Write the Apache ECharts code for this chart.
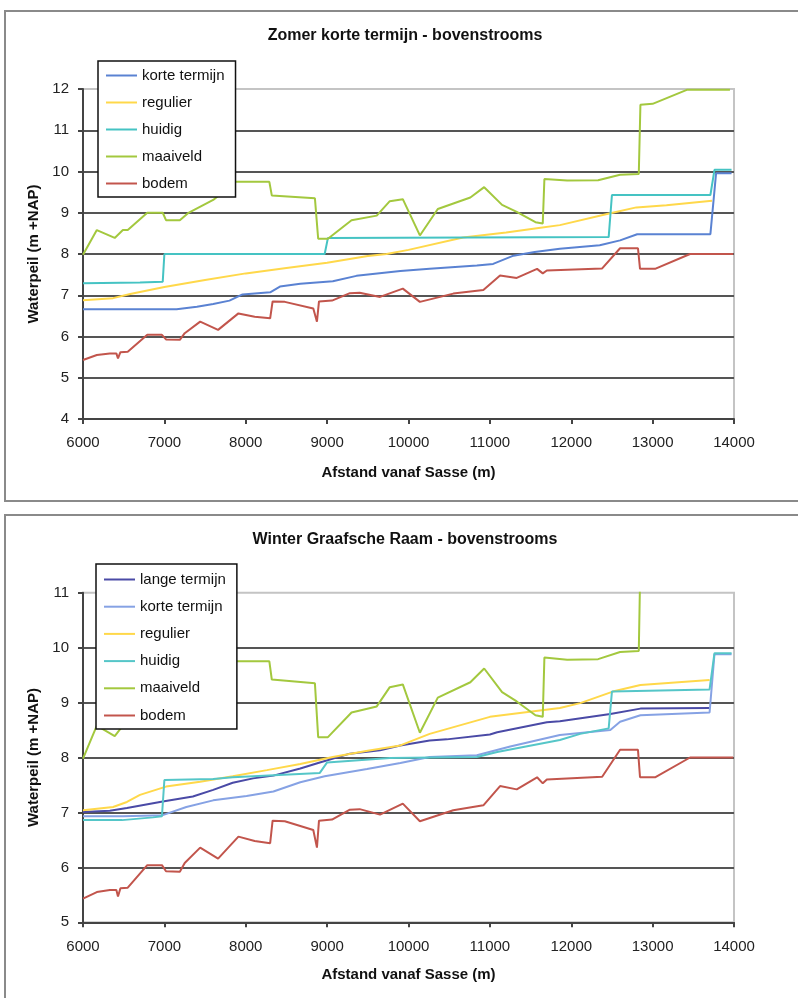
<!DOCTYPE html>
<html><head><meta charset="utf-8">
<script src="https://cdn.jsdelivr.net/npm/echarts@6/dist/echarts.min.js"></script>
<style>
html,body{margin:0;padding:0;background:#fff;}
#c1{position:absolute;left:0;top:0;width:798px;height:505px;}
#c2{position:absolute;left:0;top:505px;width:798px;height:493px;}
</style>
</head><body>
<div id="c1"></div><div id="c2"></div>
<script>
// ---------- shared data ----------
const xTicks = [6000, 7000, 8000, 9000, 10000, 11000, 12000, 13000, 14000];

const maaiveldX = [6000,6170,6390,6490,6550,6790,6980,7020,7190,7290,7600,7700,7840,8290,8320,8850,8890,9010,9300,9610,9770,9930,10140,10360,10760,10930,11150,11330,11560,11650,11670,11950,12330,12600,12830,12850,13000,13420,13950];
const maaiveldY = [7.98,8.58,8.39,8.58,8.58,9.0,9.0,8.82,8.82,8.99,9.31,9.47,9.75,9.75,9.42,9.35,8.37,8.37,8.82,8.93,9.28,9.33,8.45,9.09,9.37,9.62,9.19,9.02,8.77,8.74,9.82,9.78,9.79,9.92,9.94,11.62,11.64,11.98,11.98];

const bodemX = [6000,6170,6330,6410,6430,6460,6550,6790,6970,7020,7190,7250,7440,7660,7910,8110,8300,8330,8480,8830,8875,8900,9060,9280,9400,9650,9930,10140,10550,10920,11125,11330,11580,11650,11700,12380,12600,12820,12845,13030,13460,13990];
const bodemY = [5.43,5.55,5.59,5.59,5.47,5.62,5.63,6.04,6.04,5.93,5.92,6.08,6.36,6.16,6.56,6.48,6.44,6.85,6.84,6.68,6.36,6.85,6.87,7.05,7.06,6.96,7.16,6.84,7.04,7.13,7.48,7.42,7.64,7.53,7.60,7.65,8.14,8.14,7.64,7.64,8.0,8.0];

// ---------- top chart: Zomer korte termijn ----------
const zTitle = 'Zomer korte termijn - bovenstrooms';
const zYTicks = [4, 5, 6, 7, 8, 9, 10, 11, 12];
const zKorteX = [6000,7150,7400,7600,7800,7960,8300,8420,8670,9070,9360,9900,10260,10840,11040,11290,11550,11860,12350,12600,12810,13710,13780,13970];
const zKorteY = [6.66,6.66,6.72,6.79,6.87,7.02,7.07,7.21,7.28,7.34,7.47,7.59,7.64,7.72,7.76,7.96,8.05,8.13,8.21,8.33,8.48,8.48,9.96,9.96];
const zRegX = [6000,6370,6580,7000,7500,8000,8500,9000,9500,9730,10000,10670,11200,11600,11860,12480,12800,13170,13730];
const zRegY = [6.88,6.93,7.03,7.20,7.37,7.53,7.66,7.79,7.95,8.0,8.10,8.40,8.52,8.63,8.70,8.99,9.13,9.18,9.29];
const zHuidigX = [6000,6700,6980,7000,8970,9010,12460,12500,13710,13760,13970];
const zHuidigY = [7.29,7.31,7.33,8.0,8.0,8.39,8.41,9.43,9.43,10.04,10.04];

// ---------- bottom chart: Winter Graafsche Raam ----------
const wTitle = 'Winter Graafsche Raam - bovenstrooms';
const wYTicks = [5, 6, 7, 8, 9, 10, 11];
const wLangeX = [6000,6330,6540,6980,7350,7600,7840,8090,8340,8670,8910,9280,9650,9900,10260,10470,11000,11090,11700,11860,12480,12850,13700];
const wLangeY = [7.01,7.03,7.08,7.20,7.29,7.41,7.54,7.62,7.67,7.80,7.91,8.07,8.13,8.22,8.31,8.33,8.42,8.46,8.64,8.66,8.79,8.89,8.90];
const wKorteX = [6000,6490,6980,7270,7600,8010,8340,8670,8970,9490,9900,10260,10840,11250,11860,12480,12600,12850,13700,13760,13970];
const wKorteY = [6.93,6.93,6.95,7.10,7.22,7.30,7.38,7.55,7.66,7.79,7.90,8.01,8.04,8.20,8.41,8.50,8.65,8.77,8.82,9.88,9.88];
const wRegX = [6000,6370,6540,6700,7020,7440,7840,8260,8670,9070,9480,9900,10260,11000,11860,12110,12510,12850,13700];
const wRegY = [7.04,7.10,7.19,7.32,7.47,7.56,7.66,7.77,7.88,8.01,8.12,8.22,8.43,8.74,8.90,8.99,9.20,9.32,9.41];
const wHuidigX = [6000,6480,6860,6970,7000,7600,7840,8910,9000,9770,10840,11090,11860,12110,12460,12500,13700,13760,13970];
const wHuidigY = [6.86,6.86,6.91,6.93,7.59,7.61,7.64,7.72,7.91,7.99,8.01,8.10,8.32,8.43,8.53,9.20,9.24,9.90,9.90];

// ---------- helpers ----------
const FONT = '"Liberation Sans", Arial, sans-serif';
function pairs(xs, ys) { return xs.map((x, i) => [x, ys[i]]); }
function line(name, xs, ys, color) {
  return {
    type: 'line', name: name, data: pairs(xs, ys), symbol: 'none', showSymbol: false,
    lineStyle: { color: color, width: 2 }, itemStyle: { color: color },
    animation: false, silent: true
  };
}
function buildOption(cfg) {
  return {
    animation: false,
    backgroundColor: '#fff',
    graphic: [
      { type: 'rect', z: 0, silent: true,
        shape: { x: 5, y: cfg.frameTop, width: 830, height: cfg.frameH },
        style: { fill: 'none', stroke: '#8a8a8a', lineWidth: 2 } },
      { type: 'text', z: 10, silent: true, x: 405, y: cfg.titleY,
        style: { text: cfg.title, align: 'center', verticalAlign: 'middle',
          textAlign: 'center', textVerticalAlign: 'middle',
          font: 'bold 16px ' + FONT, fill: '#111' } }
    ],
    grid: { left: 83, width: 651, top: cfg.gridTop, height: cfg.gridH,
      show: true, borderColor: '#c4c4c4', borderWidth: 2, backgroundColor: 'transparent' },
    legend: {
      orient: 'vertical', left: cfg.legLeft, top: cfg.legTop,
      itemWidth: 31, itemHeight: 14, itemGap: cfg.legGap,
      padding: cfg.legPad, borderColor: '#111', borderWidth: 1.5, backgroundColor: '#fff',
      itemStyle: { opacity: 0, borderWidth: 0 },
      textStyle: { fontSize: 15, color: '#111', fontFamily: FONT },
      data: cfg.series.map(s => s.name), selectedMode: false
    },
    xAxis: {
      type: 'value', min: xTicks[0], max: xTicks[xTicks.length - 1], interval: 1000,
      name: 'Afstand vanaf Sasse (m)', nameLocation: 'middle', nameGap: cfg.xNameGap,
      nameTextStyle: { fontSize: 15, fontWeight: 'bold', color: '#111', fontFamily: FONT },
      axisLine: { show: true, onZero: false, lineStyle: { color: '#444', width: 2 } },
      axisTick: { show: true, length: 5, lineStyle: { color: '#444', width: 2 } },
      axisLabel: { margin: cfg.xLabMargin, fontSize: 15, color: '#222', fontFamily: FONT,
        formatter: v => String(v) },
      splitLine: { show: false }
    },
    yAxis: {
      type: 'value', min: cfg.yTicks[0], max: cfg.yTicks[cfg.yTicks.length - 1], interval: 1,
      name: 'Waterpeil (m +NAP)', nameLocation: 'middle', nameGap: 41,
      nameTextStyle: { fontSize: 15, fontWeight: 'bold', color: '#111', fontFamily: FONT },
      axisLine: { show: true, onZero: false, lineStyle: { color: '#444', width: 2 } },
      axisTick: { show: true, length: 5, lineStyle: { color: '#444', width: 2 } },
      axisLabel: { margin: 14, fontSize: 15, color: '#222', fontFamily: FONT },
      splitLine: { show: true, showMaxLine: false, lineStyle: { color: '#555', width: 2 } }
    },
    series: cfg.series
  };
}

const c1 = echarts.init(document.getElementById('c1'), null, { renderer: 'canvas' });
c1.setOption(buildOption({
  title: zTitle, titleY: 36, frameTop: 11, frameH: 490,
  gridTop: 89, gridH: 330, legLeft: 98, legTop: 61, legGap: 12, legPad: [7, 11, 6, 7],
  xNameGap: 46, xLabMargin: 16, yTicks: zYTicks,
  series: [
    line('korte termijn', zKorteX, zKorteY, '#5a82d2'),
    line('regulier', zRegX, zRegY, '#ffd84a'),
    line('huidig', zHuidigX, zHuidigY, '#45c3c3'),
    line('maaiveld', maaiveldX, maaiveldY, '#a3c83e'),
    line('bodem', bodemX, bodemY, '#c2554c')
  ]
}));

const c2 = echarts.init(document.getElementById('c2'), null, { renderer: 'canvas' });
c2.setOption(buildOption({
  title: wTitle, titleY: 35, frameTop: 10, frameH: 520,
  gridTop: 87.7, gridH: 329.6, legLeft: 96, legTop: 59, legGap: 12.2, legPad: [8, 11, 6, 7],
  xNameGap: 45, xLabMargin: 17, yTicks: wYTicks,
  series: [
    line('lange termijn', wLangeX, wLangeY, '#4a4aa6'),
    line('korte termijn', wKorteX, wKorteY, '#86a2e4'),
    line('regulier', wRegX, wRegY, '#ffd84a'),
    line('huidig', wHuidigX, wHuidigY, '#55c6c8'),
    line('maaiveld', maaiveldX, maaiveldY, '#a3c83e'),
    line('bodem', bodemX, bodemY, '#c2554c')
  ]
}));
</script>
</body></html>
